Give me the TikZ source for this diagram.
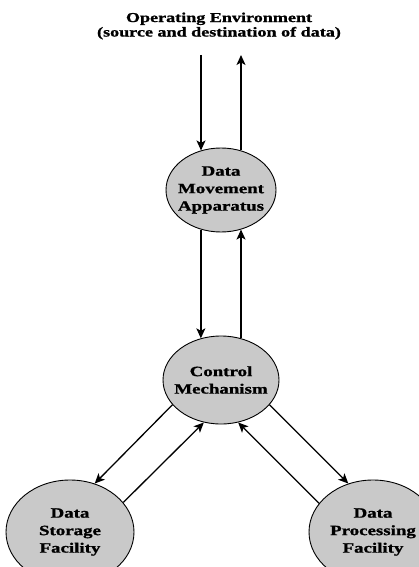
\documentclass[tikz,border=0pt]{standalone}
\usepackage{fontspec}
\setmainfont{Liberation Serif}[FakeStretch=1.33,BoldFeatures={FakeBold=1.2}]
\usetikzlibrary{arrows.meta,shapes,positioning}

\tikzset{
  blob/.style={draw,ellipse,fill=black!21,line width=0.9pt,inner sep=-14pt,align=center,
    font=\fontsize{14.2}{17.5}\selectfont\bfseries},
  flow/.style={-{Stealth[length=10pt,width=9pt,inset=2.5pt]},line width=1.3pt}
}

\begin{document}
\begin{tikzpicture}[x=1pt,y=-1pt]
\useasboundingbox (0,0) rectangle (419,567);

\node[align=center,font=\fontsize{13.6}{14.5}\selectfont\bfseries](env) at (219,26){Operating Environment\\(source and destination of data)};

\node[blob,minimum width=110pt,minimum height=84pt](move) at (221,190){Data\\Movement\\Apparatus};
\node[blob,minimum width=116pt,minimum height=88pt](ctrl) at (221,380){Control\\Mechanism};
\node[blob,minimum width=128pt,minimum height=104pt](store) at (70,532){Data\\Storage\\Facility};
\node[blob,minimum width=128pt,minimum height=104pt](proc) at (373,532){Data\\Processing\\Facility};

\coordinate (in) at (201,55);
\coordinate (out) at (241,55);

% environment <-> data movement
\draw[flow] (in) -- (in |- move.117);
\draw[flow] (out |- move.63) -- (out);

% data movement <-> control
\draw[flow] (move.243) -- (move.243 |- ctrl.116);
\draw[flow] (out |- ctrl.64) -- (out |- move.297);

% control <-> storage and processing
\draw[flow] (ctrl.207) -- (store.63);
\draw[flow] (store.29) -- (ctrl.248);
\draw[flow] (ctrl.333) -- (proc.117);
\draw[flow] (proc.152) -- (ctrl.292);
\end{tikzpicture}
\end{document}
